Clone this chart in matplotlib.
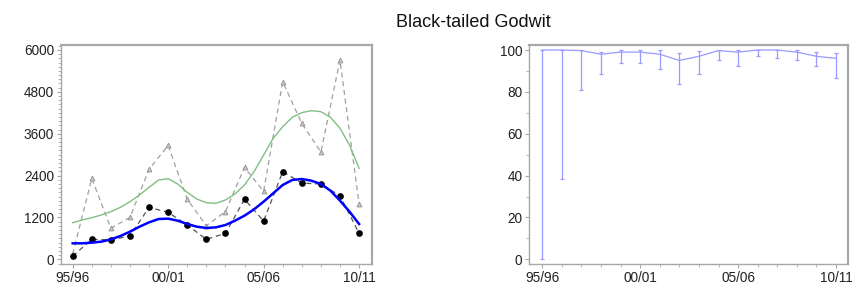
import matplotlib
matplotlib.use("Agg")
import matplotlib.pyplot as plt
from matplotlib.ticker import MultipleLocator, FixedLocator

plt.rcParams['font.family'] = ['Liberation Sans', 'DejaVu Sans']

years = list(range(16))
xtick_pos = [0, 5, 10, 15]
xtick_labels = ["95/96", "00/01", "05/06", "10/11"]

# Left panel
imputed = [150, 2320, 890, 1200, 2580, 3266, 1720, 965, 1366, 2636, 1948, 5090, 3896, 3075, 5711, 1585]
counted = [90, 573, 555, 670, 1490, 1347, 984, 573, 745, 1720, 1100, 2512, 2187, 2158, 1824, 745]
smooth_x = [i * 0.5 for i in range(31)]
smooth_imputed = [1051, 1127, 1194, 1271, 1366, 1490, 1653, 1844, 2064, 2274, 2312, 2159,
                  1920, 1729, 1624, 1605, 1701, 1873, 2131, 2513, 2990, 3468, 3802, 4070,
                  4204, 4261, 4232, 4070, 3755, 3277, 2608]
smooth_counted = [459, 459, 478, 506, 573, 669, 793, 936, 1060, 1156, 1166, 1108,
                  1013, 936, 898, 917, 984, 1108, 1252, 1433, 1653, 1892, 2131, 2274,
                  2302, 2255, 2159, 1968, 1682, 1366, 1013]

# Right panel
pct = [100, 100, 99.7, 98, 99, 99, 98, 95, 97, 99.7, 99, 100, 100, 99, 97, 96]
pct_low = [0, 38.5, 81, 88.4, 94, 94, 91, 84, 88.4, 95, 92.5, 97, 96, 95, 92.5, 86.5]
pct_high = [100, 100, 100, 99.2, 100, 100, 100, 98.4, 99.5, 100, 100, 100, 100, 100, 99, 98.8]

fig = plt.figure(figsize=(8.67, 2.96), dpi=100)
fig.text(0.546, 0.925, "Black-tailed Godwit", ha='center', va='center', fontsize=13, color='#111111')

frame_col = '#a8a8a8'
tick_col = '#222222'

ax1 = fig.add_axes([0.0704, 0.107, 0.3583, 0.741])
ax1.plot(years, imputed, linestyle=(0, (4, 3)), color='#a0a0a0', lw=0.9,
         marker='^', markersize=3.5, markerfacecolor='#c8c8c8', markeredgecolor='#909090', markeredgewidth=0.6)
ax1.plot(years, counted, linestyle=(0, (4, 3)), color='#555555', lw=0.9,
         marker='o', markersize=3.8, markerfacecolor='black', markeredgecolor='black')
ax1.plot(smooth_x, smooth_imputed, color='#80c080', lw=1.0)
ax1.plot(smooth_x, smooth_counted, color='#0000ff', lw=1.8)
ax1.set_xlim(-0.61, 15.66)
ax1.set_ylim(-143, 6143)
ax1.yaxis.set_major_locator(MultipleLocator(1200))
ax1.yaxis.set_minor_locator(MultipleLocator(120))

ax2 = fig.add_axes([0.6105, 0.107, 0.368, 0.741])
err_lo = [p - l for p, l in zip(pct, pct_low)]
err_hi = [h - p for p, h in zip(pct, pct_high)]
ax2.errorbar(years, pct, yerr=[err_lo, err_hi], color='#9a9aff', lw=0.9, elinewidth=0.9,
             capsize=1.5, capthick=0.9)
ax2.set_xlim(-0.66, 15.63)
ax2.set_ylim(-2.39, 102.4)
ax2.yaxis.set_major_locator(MultipleLocator(20))
ax2.yaxis.set_minor_locator(MultipleLocator(10))

for ax in (ax1, ax2):
    ax.set_xticks(xtick_pos)
    ax.set_xticklabels(xtick_labels)
    ax.xaxis.set_minor_locator(FixedLocator(years))
    for s in ax.spines.values():
        s.set_color(frame_col)
        s.set_linewidth(1.0)
    ax.spines['right'].set_linewidth(1.6)
    ax.spines['top'].set_linewidth(1.6)
    ax.tick_params(axis='both', which='major', labelsize=9.8, colors=frame_col, labelcolor=tick_col,
                   length=3, width=0.8, pad=2)
    ax.tick_params(axis='both', which='minor', colors=frame_col, length=2, width=0.6)

fig.savefig("out.png", dpi=100)
